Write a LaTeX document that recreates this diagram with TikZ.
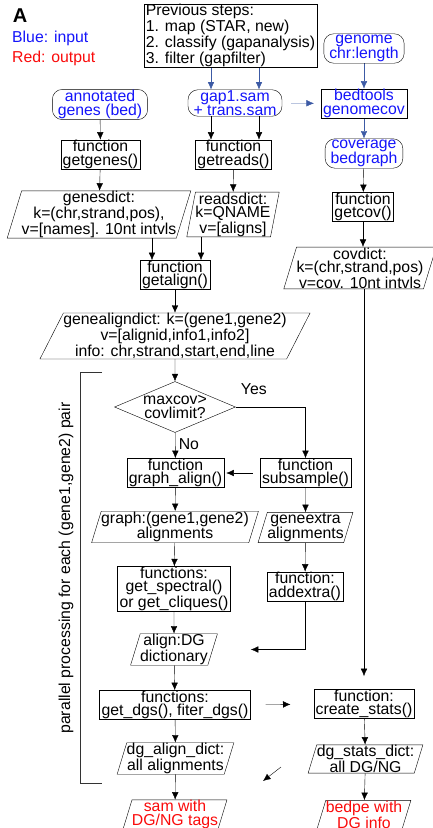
\documentclass[tikz,border=0pt]{standalone}
\usepackage{fontspec}
\setmainfont{Liberation Sans}
\usetikzlibrary{shapes.geometric}
\usetikzlibrary{arrows.meta}
\pgfdeclarelayer{edgelayer}
\pgfdeclarelayer{nodelayer}
\pgfsetlayers{edgelayer,nodelayer,main}
\definecolor{inblue}{RGB}{20,20,250}
\definecolor{outred}{RGB}{250,10,10}
\definecolor{inarrow}{RGB}{60,90,165}
\tikzstyle{none}=[inner sep=1pt]
\tikzstyle{procbox}=[draw=black,rectangle,align=center,inner xsep=2pt,inner ysep=0.5pt]
\tikzstyle{termbox}=[draw=black,rectangle,rounded corners=10pt,align=center,inner xsep=5.5pt,inner ysep=1pt]
\tikzstyle{databox}=[draw=black,trapezium,trapezium left angle=73,trapezium right angle=107,align=center,inner xsep=0pt,inner ysep=0.5pt]
\tikzstyle{decision}=[draw=black,diamond,aspect=2.4,align=center,inner sep=0pt,minimum width=121pt,minimum height=51pt]
\tikzstyle{flow}=[-{Latex[length=7.5pt,width=6.5pt]},draw=black]
\tikzstyle{inflow}=[-{Latex[length=7.5pt,width=6.5pt]},draw=inarrow]
\tikzstyle{bracket}=[draw=black!80]

\begin{document}
\begin{tikzpicture}[x=1pt, y=-1pt, line width=1.5pt, font=\fontsize{15.8}{13.5}\selectfont]
	\useasboundingbox (0, 0) rectangle (433, 828);
	\begin{pgfonlayer}{nodelayer}
		\node [style=none, font=\fontsize{20}{20}\selectfont\bfseries] (0) at (20, 16) {A};
		\node [style=none, anchor=west, text=inblue] (1) at (11, 38) {Blue: input};
		\node [style=none, anchor=west, text=outred] (2) at (11, 58) {Red: output};
		\node [style=procbox, align=left] (3) at (230.5, 35.5) {Previous steps:\\1. map (STAR, new)\\2. classify (gapanalysis)\\3. filter (gapfilter)};
		\node [style=termbox, text=inblue] (4) at (364, 48.5) {genome\\chr:length};
		\node [style=termbox, text=inblue] (5) at (235, 103) {gap1.sam\\+ trans.sam};
		\node [style=procbox, text=inblue] (6) at (364, 103.5) {bedtools\\genomecov};
		\node [style=termbox, text=inblue] (7) at (100, 104.5) {annotated\\genes (bed)};
		\node [style=procbox] (8) at (100.5, 154.5) {function\\getgenes()};
		\node [style=procbox] (9) at (233.5, 154.5) {function\\getreads()};
		\node [style=termbox, text=inblue] (10) at (364, 153.5) {coverage\\bedgraph};
		\node [style=databox] (11) at (99, 214.5) {genesdict:\\k=(chr,strand,pos),\\v=[names]. 10nt intvls};
		\node [style=databox, trapezium left angle=79, trapezium right angle=101] (12) at (233, 214.5) {readsdict:\\k=QNAME\\v=[aligns]};
		\node [style=procbox] (13) at (363, 207) {function\\getcov()};
		\node [style=procbox] (14) at (175, 275) {function\\getalign()};
		\node [style=databox] (15) at (360, 268) {covdict:\\k=(chr,strand,pos)\\v=cov. 10nt intvls};
		\node [style=databox, trapezium left angle=63, trapezium right angle=117] (16) at (175, 336) {genealigndict: k=(gene1,gene2)\\v=[alignid,info1,info2]\\info: chr,strand,start,end,line};
		\node [style=decision] (17) at (175, 407) {maxcov>\\covlimit?};
		\node [style=procbox] (20) at (175.5, 473) {function\\graph\_align()};
		\node [style=procbox] (21) at (305.5, 473) {function\\subsample()};
		\node [style=databox] (22) at (175, 527) {graph:(gene1,gene2)\\alignments};
		\node [style=databox] (23) at (305.5, 527.5) {geneextra\\alignments};
		\node [style=procbox] (24) at (174, 589) {functions:\\get\_spectral()\\or get\_cliques()};
		\node [style=procbox] (25) at (305, 586.5) {function:\\addextra()};
		\node [style=databox] (26) at (174, 649.5) {align:DG\\dictionary};
		\node [style=procbox] (27) at (175, 705) {functions:\\get\_dgs(), fiter\_dgs()};
		\node [style=procbox] (28) at (364, 704) {function:\\create\_stats()};
		\node [style=databox] (29) at (175.5, 758.5) {dg\_align\_dict:\\all alignments};
		\node [style=databox] (30) at (365.5, 759) {dg\_stats\_dict:\\all DG/NG};
		\node [style=databox, text=outred] (31) at (175, 814.5) {sam with\\DG/NG tags};
		\node [style=databox, text=outred] (32) at (364, 814.5) {bedpe with\\DG info};
		\node [style=none, rotate=90] (33) at (66, 568) {parallel processing for each (gene1,gene2) pair};
		\coordinate (34) at (211, 0);
		\coordinate (35) at (259, 0);
		\coordinate (36) at (152, 0);
		\coordinate (37) at (201, 0);
		\coordinate (38) at (281, 767);
		\coordinate (39) at (263, 781);
		\coordinate (40) at (102, 372);
		\coordinate (41) at (80, 372);
		\coordinate (42) at (80, 783);
		\coordinate (43) at (102, 783);
	\end{pgfonlayer}
	\begin{pgfonlayer}{edgelayer}
		\draw [style=inflow] (3.south -| 34) to (5.north -| 34);
		\draw [style=inflow] (3.south -| 35) to (5.north -| 35);
		\draw [style=inflow] (4) to (6);
		\draw [style=inflow, shorten <=9pt, shorten >=7pt] (5) to (6);
		\draw [style=inflow] (6) to (10);
		\draw [style=flow] (7) to (8);
		\draw [style=flow] (5.south -| 34) to (9.north -| 34);
		\draw [style=flow] (5.south -| 35) to (9.north -| 35);
		\draw [style=flow] (8) to (11);
		\draw [style=flow] (9) to (12);
		\draw [style=flow] (10) to (13);
		\draw [style=flow] (13) to (15.north -| 13);
		\draw [style=flow] (11.south -| 36) to (14.north -| 36);
		\draw [style=flow] (12.south -| 37) to (14.north -| 37);
		\draw [style=flow] (14) to (16);
		\draw [style=flow] (16) to (17);
		\draw [style=flow] (17) to node[right, pos=0.45]{No} (20);
		\draw [style=flow] (17.east) -| node[pos=0.13, above=9pt]{Yes} (21.north);
		\draw [style=flow, shorten <=7pt, shorten >=2pt] (21) to (20);
		\draw [style=flow] (20) to (22);
		\draw [style=flow] (21) to (23);
		\draw [style=flow] (22) to (24);
		\draw [style=flow] (23) to (25);
		\draw [style=flow] (24) to (26);
		\draw [style=flow, shorten >=38pt] (25.south) |- (26.east);
		\draw [style=flow] (26) to (27);
		\draw [style=flow, shorten <=15pt, shorten >=23pt] (27) to (28);
		\draw [style=flow, shorten >=13pt] (15.south -| 28) to (28.north);
		\draw [style=flow] (27) to (29);
		\draw [style=flow] (28) to (30);
		\draw [style=flow] (38) to (39);
		\draw [style=flow] (29) to (31);
		\draw [style=flow] (30) to (32);
		\draw [style=bracket] (40) -- (41) -- (42) -- (43);
	\end{pgfonlayer}
\end{tikzpicture}
\end{document}
